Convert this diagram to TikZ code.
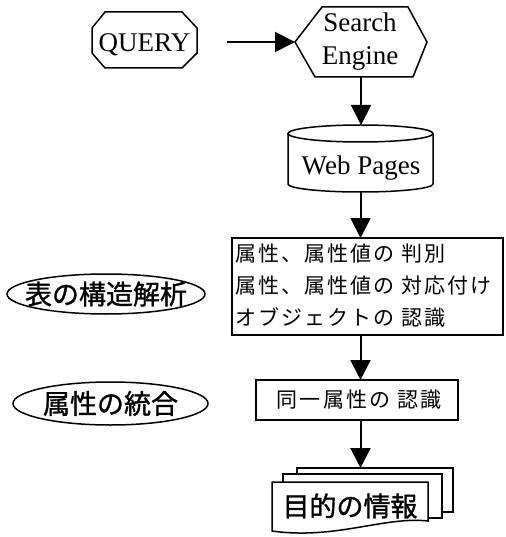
\documentclass[tikz,border=0pt]{standalone}
\usepackage{fontspec}
\setmainfont{Liberation Serif}
\newfontfamily\jpbox[LetterSpace=10]{Noto Sans CJK JP}
\newfontfamily\jpbig[FakeBold=1.2]{Noto Sans CJK JP}
\usetikzlibrary{arrows.meta}
\begin{document}
\begin{tikzpicture}[x=1pt,y=-1pt,line join=miter,
  shp/.style={line width=1.5pt},
  conn/.style={line width=2pt,-{Triangle[length=20pt,width=20pt]}},
  ghost/.style={inner sep=0pt,outer sep=0pt},
  latin/.style={inner sep=0pt,font=\fontsize{27}{33}\selectfont},
  jptext/.style={inner sep=0pt,font=\jpbox\fontsize{21}{32}\selectfont},
  jplabel/.style={inner sep=0pt,font=\jpbig\fontsize{27}{30}\selectfont}]
\useasboundingbox (0,0) rectangle (505,537);

% QUERY octagon
\node[ghost,minimum width=105pt,minimum height=56pt] (query) at (144.5,40) {};
\draw[shp] (92,28) -- (105,12) -- (182,12) -- (197,28) -- (197,53) -- (182,68) -- (105,68) -- (92,53) -- cycle;
\node[latin,anchor=base] (querytxt) at (144.5,52) {QUERY};

% Search Engine hexagon
\node[ghost,minimum width=132pt,minimum height=70pt] (se) at (361,42) {};
\draw[shp] (295,42) -- (322,7) -- (408,7) -- (427,42) -- (413,77) -- (315,77) -- cycle;
\node[latin,anchor=base] (setxt1) at (360,32) {Search};
\node[latin,anchor=base] (setxt2) at (360,65) {Engine};

\coordinate (qa) at (227,42);
\draw[conn] (qa) -- (se.west);

% Web Pages cylinder
\node[ghost,minimum width=145pt,minimum height=67pt] (web) at (360.5,158.5) {};
\draw[shp,fill=white] (288,133.5) -- (288,184) arc[start angle=180,end angle=0,x radius=72.5,y radius=8] -- (433,133.5);
\draw[shp] (360.5,133.5) ellipse[x radius=72.5,y radius=8.5];
\node[latin,anchor=base] (webtxt) at (361,175) {Web Pages};

\draw[conn] (se.south) -- (se.south |- web.north);

% Box 1
\node[draw,shp,ghost,minimum width=271pt,minimum height=97pt] (b1) at (367.5,286.5) {};
\node[jptext,anchor=west,align=left] (b1txt) at (235,286) {属性、属性値の 判別\\属性、属性値の 対応付け\\オブジェクトの 認識};
\draw[conn] (web.south) -- (web.south |- b1.north);

% Box 2
\node[draw,shp,ghost,minimum width=202pt,minimum height=40pt] (b2) at (357,400) {};
\node[jptext] (b2txt) at (359,400) {同一属性の 認識};
\draw[conn] (b1.south -| web.south) -- (web.south |- b2.north);

% Ellipse labels
\node[jplabel] (e1) at (106,294) {表の構造解析};
\draw[shp] (e1.center) ellipse[x radius=99,y radius=20];
\node[jplabel] (e2) at (110.5,403.5) {属性の統合};
\draw[shp] (e2.center) ellipse[x radius=97.5,y radius=21.5];

% Document stack
\node[ghost,minimum width=181pt,minimum height=65pt] (doc) at (362.5,500.5) {};
\draw[shp,fill=white] (297,468) rectangle (453,512);
\draw[shp,fill=white] (283,474) rectangle (442,518);
\draw[shp,fill=white] (272,482) -- (428,482) -- (428,521) .. controls (385,516) and (335,540) .. (272,531) -- cycle;
\node[jplabel] (doctxt) at (350,506) {目的の情報};
\draw[conn] (b2.south -| web.south) -- (web.south |- doc.north);
\end{tikzpicture}
\end{document}
